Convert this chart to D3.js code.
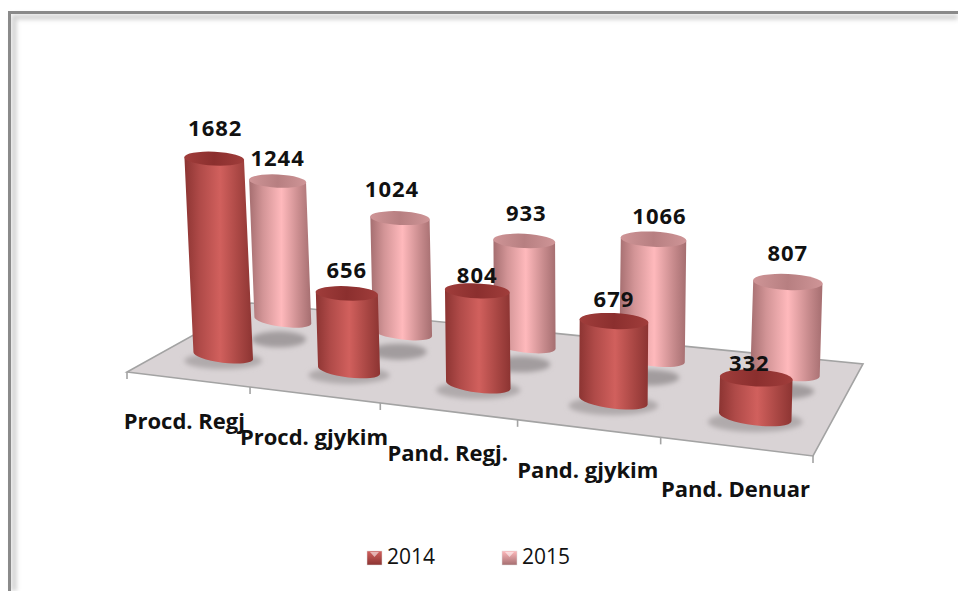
<!DOCTYPE html>
<html>
<head>
<meta charset="utf-8">
<script src="https://cdnjs.cloudflare.com/ajax/libs/d3/7.8.5/d3.min.js"></script>
<style>
  html, body { margin: 0; padding: 0; background: #fff; }
  svg { display: block; }
  text { font-family: "Open Sans", sans-serif; fill: #111; }
</style>
</head>
<body>
<svg id="chart" width="958" height="591"></svg>
<script>
// chart values
const categories = ["Procd. Regj", "Procd. gjykim", "Pand. Regj.", "Pand. gjykim", "Pand. Denuar"];
const seriesNames = ["2014", "2015"];
const values2014 = [1682, 656, 804, 679, 332];
const values2015 = [1244, 1024, 933, 1066, 807];

// excel left the value labels a bit off the lids, so nudge them by hand
const labelNudgeX = {"2014": [1, 0, 0, 0, -7], "2015": [0, -8, 2, 6, 0]};
const labelNudgeY = {"2014": [23, 15, 8, 14, 7], "2015": [15, 21, 20, 15, 21]};

const svg = d3.select("#chart");
const defs = svg.append("defs");

// floor corners in the picture, everything 3d hangs off these
const frontLeft = [127, 372], frontRight = [813, 456], backRight = [863, 364], backLeft = [251, 303];

// projective map from the unit square onto the floor quad
function makeFloor(p00, p10, p11, p01) {
  const dx1 = p10[0] - p11[0], dx2 = p01[0] - p11[0], sx = p00[0] - p10[0] + p11[0] - p01[0];
  const dy1 = p10[1] - p11[1], dy2 = p01[1] - p11[1], sy = p00[1] - p10[1] + p11[1] - p01[1];
  const det = dx1 * dy2 - dx2 * dy1;
  const g = (sx * dy2 - dx2 * sy) / det, h = (dx1 * sy - sx * dy1) / det;
  const a = p10[0] - p00[0] + g * p10[0], b = p01[0] - p00[0] + h * p01[0];
  const d = p10[1] - p00[1] + g * p10[1], e = p01[1] - p00[1] + h * p01[1];
  return function(u, v) {
    const w = g * u + h * v + 1;
    return {x: (a * u + b * v + p00[0]) / w, y: (d * u + e * v + p00[1]) / w};
  };
}
const floor = makeFloor(frontLeft, frontRight, backRight, backLeft);

// the picture's category spacing is not quite the projective one, this bends it into place
const catWarp = d3.scaleLinear().domain([0, 0.1, 0.2, 0.4, 0.6, 0.8, 1]).range([0, 0.098, 0.2067, 0.411, 0.6118, 0.8068, 1]);
const catScale = d3.scaleBand().domain(categories).range([0, 1]);
const depthScale = d3.scaleOrdinal().domain(seriesNames).range([0.3, 0.81]);
const depthSize = d3.scaleOrdinal().domain(seriesNames).range([1, 0.955]);
const widthScale = d3.scaleLinear().domain([0.1, 0.5, 0.9]).range([60, 65, 73]);
const heightScale = d3.scaleLinear().domain([0, 1800]).range([0, 211]);
const leanPerPx = 0.000135, leanCenter = 562;

const styles = {
  "2014": {edge: "#8c3432", mid: "#d1605d", top: "#8b2f2e", topMid: "#a03d3b"},
  "2015": {edge: "#a56e70", mid: "#ffb9bc", top: "#b77f81", topMid: "#cf9597"}
};

// horizontal shading of the barrels
seriesNames.forEach(function(name) {
  const st = styles[name];
  const side = defs.append("linearGradient").attr("id", "side" + name);
  side.append("stop").attr("offset", "0%").attr("stop-color", st.edge);
  side.append("stop").attr("offset", "22%").attr("stop-color", d3.interpolateRgb(st.edge, st.mid)(0.5));
  side.append("stop").attr("offset", "52%").attr("stop-color", st.mid);
  side.append("stop").attr("offset", "80%").attr("stop-color", d3.interpolateRgb(st.edge, st.mid)(0.4));
  side.append("stop").attr("offset", "100%").attr("stop-color", st.edge);
  const lid = defs.append("linearGradient").attr("id", "lid" + name);
  lid.append("stop").attr("offset", "0%").attr("stop-color", st.topMid);
  lid.append("stop").attr("offset", "50%").attr("stop-color", st.top);
  lid.append("stop").attr("offset", "100%").attr("stop-color", st.topMid);
  // legend chip
  const chip = defs.append("linearGradient").attr("id", "chip" + name).attr("x2", 0).attr("y2", 1);
  chip.append("stop").attr("offset", "0%").attr("stop-color", st.mid);
  chip.append("stop").attr("offset", "100%").attr("stop-color", st.edge);
});
const blur = defs.append("filter").attr("id", "soft").attr("x", "-30%").attr("y", "-60%").attr("width", "160%").attr("height", "220%");
blur.append("feGaussianBlur").attr("stdDeviation", 2.5);
const blurFrame = defs.append("filter").attr("id", "softFrame").attr("x", "-5%").attr("y", "-5%").attr("width", "110%").attr("height", "110%");
blurFrame.append("feGaussianBlur").attr("stdDeviation", 2);

// outer frame: hard grey top and left, soft inner shadow
svg.append("path").attr("d", "M14,591V17H958").attr("fill", "none").attr("stroke", "#d0d0d0")
  .attr("stroke-width", 5).attr("filter", "url(#softFrame)");
svg.append("path").attr("d", "M9.5,591V12.5H958").attr("fill", "none").attr("stroke", "#8a8a8a").attr("stroke-width", 3);
svg.append("path").attr("d", "M12,587.5H958").attr("fill", "none").attr("stroke", "#b5b5b5").attr("stroke-width", 3)
  .attr("filter", "url(#softFrame)");

// floor
const floorLine = d3.line();
svg.append("path")
  .attr("d", floorLine([frontLeft, frontRight, backRight, backLeft]) + "Z")
  .attr("fill", "#d9d3d5").attr("stroke", "#a3a3a3").attr("stroke-width", 1.6);

// category ticks
const tickGroup = svg.append("g");
d3.range(categories.length + 1).forEach(function(i) {
  const p = floor(catWarp(i / categories.length), 0);
  tickGroup.append("line").attr("x1", p.x).attr("x2", p.x).attr("y1", p.y).attr("y2", p.y + 7)
    .attr("stroke", "#a3a3a3").attr("stroke-width", 1.6);
});

// one record per barrel, built from the arrays
function barrels(name, values) {
  return values.map(function(v, i) {
    const mid = catScale(categories[i]) + catScale.bandwidth() / 2;
    const u = catWarp(mid);
    const p = floor(u, depthScale(name));
    const w = widthScale(mid) * depthSize(name), h = heightScale(v) * depthSize(name);
    const lean = (p.x - leanCenter) * leanPerPx * h;
    const tilt = Math.atan2(floor(u + 0.05, 0).y - floor(u - 0.05, 0).y, floor(u + 0.05, 0).x - floor(u - 0.05, 0).x) * 180 / Math.PI;
    return {name: name, index: i, value: v, x: p.x, y: p.y, rx: w / 2, ry: w * 0.115, h: h, lean: lean, tilt: tilt};
  });
}
const back = barrels("2015", values2015), front = barrels("2014", values2014);

// floor shadows, the back row throws its shadow further forward
const shadowGroup = svg.append("g");
back.forEach(function(d) {
  shadowGroup.append("ellipse")
    .attr("cx", d.x - 4).attr("cy", d.y + 19)
    .attr("rx", d.rx * 0.95).attr("ry", 8)
    .attr("fill", "#a29c9e").attr("filter", "url(#soft)");
});
front.forEach(function(d) {
  shadowGroup.append("ellipse")
    .attr("cx", d.x).attr("cy", d.y + 5)
    .attr("rx", d.rx * 1.3).attr("ry", d.ry * 1.2)
    .attr("fill", "#b0aaac").attr("filter", "url(#soft)");
});

// barrel body + lid, back row first
function drawBarrel(d) {
  const g = svg.append("g").attr("class", "barrel");
  const tx = d.x + d.lean, ty = d.y - d.h;
  const t = d.tilt * Math.PI / 180;
  const cos = Math.cos(t), sin = Math.sin(t);
  const bl = [d.x - d.rx * cos, d.y - d.rx * sin], br = [d.x + d.rx * cos, d.y + d.rx * sin];
  const tl = [tx - d.rx * cos, ty - d.rx * sin * 0.4], tr = [tx + d.rx * cos, ty + d.rx * sin * 0.4];
  g.append("path")
    .attr("d", "M" + tl + "L" + bl + "A" + d.rx + "," + d.ry + " " + d.tilt + " 0 0 " + br + "L" + tr + "Z")
    .attr("fill", "url(#side" + d.name + ")");
  g.append("ellipse")
    .attr("rx", d.rx).attr("ry", d.ry)
    .attr("transform", "translate(" + tx + "," + ty + ") rotate(" + (d.tilt * 0.4) + ")")
    .attr("fill", "url(#lid" + d.name + ")");
}
back.forEach(drawBarrel);
front.forEach(drawBarrel);

// value labels
back.concat(front).forEach(function(d) {
  svg.append("text")
    .attr("x", d.x + d.lean + labelNudgeX[d.name][d.index])
    .attr("y", d.y - d.h - labelNudgeY[d.name][d.index])
    .attr("text-anchor", "middle")
    .attr("font-size", 22).attr("font-weight", 700).attr("letter-spacing", 1)
    .text(d3.format("d")(d.value));
});

// category labels sit under the front edge
categories.forEach(function(c) {
  const p = floor(catWarp(catScale(c) + catScale.bandwidth() / 2), 0);
  svg.append("text")
    .attr("x", p.x).attr("y", p.y + 50)
    .attr("text-anchor", "middle")
    .attr("font-size", 22).attr("font-weight", 700)
    .text(c);
});

// legend
const legendScale = d3.scalePoint().domain(seriesNames).range([367, 502]);
seriesNames.forEach(function(name) {
  const x = legendScale(name), g = svg.append("g");
  g.append("rect").attr("x", x).attr("y", 551).attr("width", 15).attr("height", 14)
    .attr("fill", "url(#chip" + name + ")").attr("stroke", "#ddd").attr("stroke-width", 0.5);
  g.append("path").attr("d", "M" + (x + 3) + ",552L" + (x + 12) + ",552L" + (x + 7.5) + ",557Z")
    .attr("fill", "#fff").attr("opacity", 0.55);
  g.append("text").attr("x", x + 20).attr("y", 564).attr("font-size", 21).attr("fill", "#222").text(name);
});
</script>
</body>
</html>
